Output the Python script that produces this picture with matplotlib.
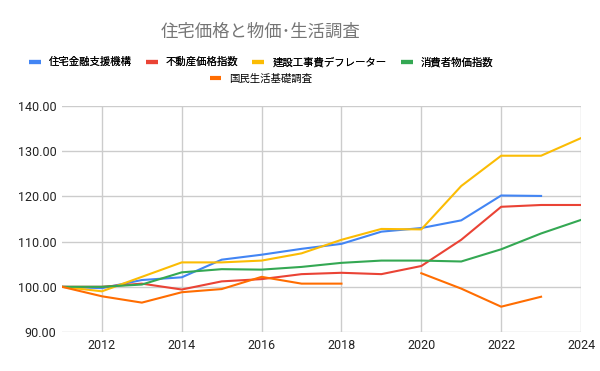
import numpy as np
import matplotlib
matplotlib.use("Agg")
import matplotlib.pyplot as plt
from matplotlib.lines import Line2D

plt.rcParams['font.family'] = ['Noto Sans CJK JP', 'DejaVu Sans']

years = list(range(2011, 2025))

jhf = [100.0, 99.7, 101.5, 102.1, 106.0, 107.1, 108.4, 109.5, 112.2, 113.0, 114.7, 120.2, 120.1, None]
fudosan = [100.0, 100.0, 100.7, 99.4, 101.2, 101.7, 102.8, 103.1, 102.8, 104.6, 110.4, 117.7, 118.1, 118.1]
kensetsu = [100.0, 99.0, 102.2, 105.4, 105.4, 105.8, 107.4, 110.4, 112.8, 112.7, 122.3, 129.0, 129.0, 132.9]
cpi = [100.0, 100.0, 100.5, 103.2, 103.9, 103.8, 104.4, 105.3, 105.8, 105.8, 105.6, 108.3, 111.8, 114.8]
kokumin = [100.0, 97.9, 96.5, 98.8, 99.5, 102.2, 100.7, 100.7, None, 103.0, 99.6, 95.6, 97.8, None]

labels = ["住宅金融支援機構", "不動産価格指数", "建設工事費デフレーター", "消費者物価指数", "国民生活基礎調査"]
colors = ["#4285F4", "#EA4335", "#FBBC04", "#34A853", "#FF6D01"]
series = [jhf, fudosan, kensetsu, cpi, kokumin]

fig = plt.figure(figsize=(6, 3.71), dpi=100)
ax = fig.add_axes([62/600, 1-332/371, (581-62)/600, (332-106)/371])

x = np.array(years)
for s, c in zip(series, colors):
    y = np.array([np.nan if v is None else v for v in s], dtype=float)
    ax.plot(x, y, color=c, lw=1.5)

ax.set_xlim(2011, 2024)
ax.set_ylim(90, 140)
ax.set_xticks(range(2012, 2025, 2))
ax.set_yticks(np.arange(90, 141, 10))
ax.set_yticklabels([f"{v:.2f}" for v in np.arange(90, 141, 10)])
ax.grid(True, color="#cccccc", lw=1)
ax.set_axisbelow(True)
for sp in ax.spines.values():
    sp.set_visible(False)
ax.tick_params(length=0, labelsize=9, colors="#222222")
ax.tick_params(axis='y', pad=4)
ax.tick_params(axis='x', pad=5)
for t in ax.get_xticklabels() + ax.get_yticklabels():
    t.set_fontfamily('Roboto')

cx = 261/600
fig.text(cx, 1-32/371, "住宅価格と物価･生活調査", ha="center", va="center",
         fontsize=12.5, color="#757575")

handles = [Line2D([], [], color=c, lw=3, solid_capstyle='butt') for c in colors]
leg1 = fig.legend(handles[:4], labels[:4], loc="center", bbox_to_anchor=(cx, 1-62/371),
                  ncol=4, frameon=False, fontsize=7.5, handlelength=1.15,
                  columnspacing=1.35, handletextpad=0.77, borderpad=0, borderaxespad=0)
fig.add_artist(leg1)
fig.legend(handles[4:], labels[4:], loc="center", bbox_to_anchor=(cx, 1-79/371),
           ncol=1, frameon=False, fontsize=7.5, handlelength=1.15, handletextpad=0.77,
           borderpad=0, borderaxespad=0)

fig.savefig("out.png", dpi=100)
